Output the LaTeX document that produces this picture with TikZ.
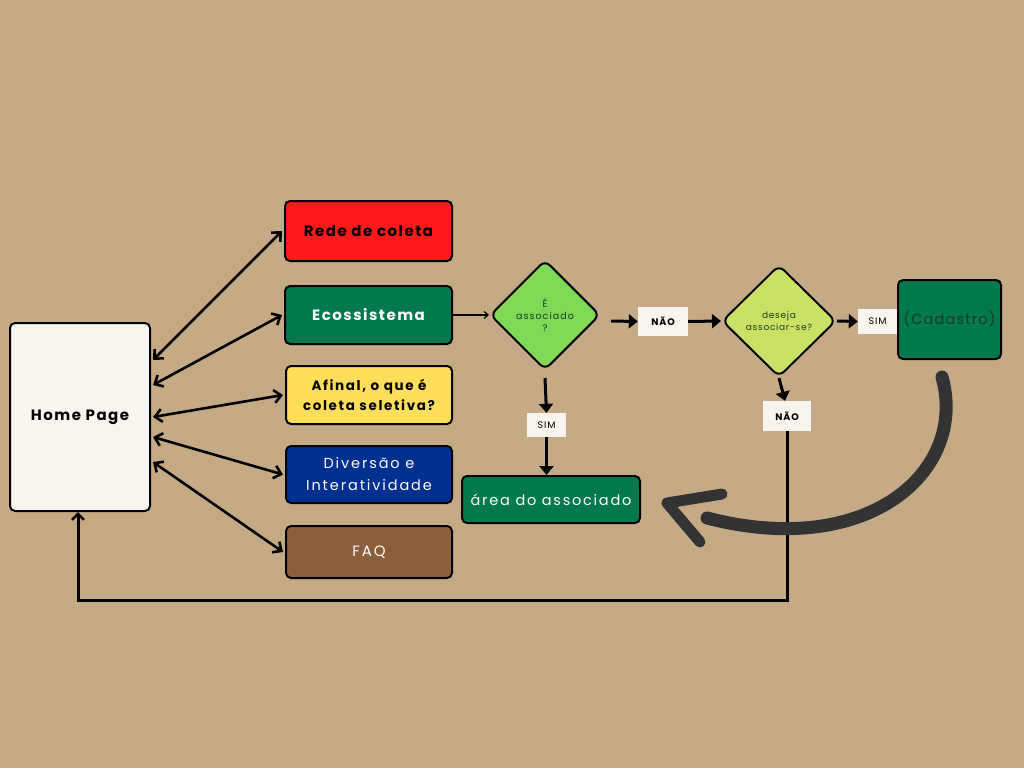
\documentclass[tikz,border=0pt]{standalone}
\usepackage{fontspec}
\setmainfont{Poppins}
\usetikzlibrary{arrows.meta,shapes.geometric,calc}
\definecolor{kraft}{HTML}{C6AA86}
\definecolor{cream}{HTML}{F8F4EE}
\definecolor{redbox}{HTML}{FF1A1A}
\definecolor{ecogreen}{HTML}{007A4D}
\definecolor{yellowbox}{HTML}{FFDE59}
\definecolor{bluebox}{HTML}{00308F}
\definecolor{brownbox}{HTML}{8B5E3C}
\definecolor{lightgreen}{HTML}{7ED957}
\definecolor{limegreen}{HTML}{C9E265}
\definecolor{darkgray}{HTML}{333333}
\definecolor{darktext}{HTML}{1E3A1E}
\newcommand{\ls}[1]{\addfontfeatures{LetterSpace=#1}}
\tikzset{
  box/.style={draw=black, line width=2pt, rounded corners=5pt, align=center, inner sep=0pt},
  dia/.style={diamond, aspect=1, draw=black, line width=2pt, rounded corners=7pt, align=center, inner sep=0pt},
  tag/.style={fill=cream, inner sep=0pt, font=\fontsize{9.5}{10}\selectfont\ls{10}},
  btag/.style={tag, font=\bfseries\fontsize{9.5}{10}\selectfont\ls{10}},
  dbl/.style={line width=2.6pt, {Straight Barb[length=7pt,width=13pt,line width=2.6pt]}-{Straight Barb[length=7pt,width=13pt,line width=2.6pt]}},
  flow/.style={line width=3pt, -{Triangle[length=9pt,width=14pt]}},
  loop/.style={line width=3pt, -{Straight Barb[length=6pt,width=12pt,line width=2.5pt]}},
}
\begin{document}
\begin{tikzpicture}[x=1pt,y=-1pt]
\fill[kraft] (0,0) rectangle (1024,768);
\useasboundingbox (0,0) rectangle (1024,768);

% main nodes
\node[box, fill=cream, minimum width=140pt, minimum height=188pt, font=\bfseries\fontsize{15}{17}\selectfont\ls{10}] (home) at (80,417) {Home Page};
\node[box, fill=redbox, minimum width=167pt, minimum height=60pt, font=\bfseries\fontsize{15}{17}\selectfont\ls{10}] (rede) at (368.5,231) {Rede de coleta};
\node[box, fill=ecogreen, text=white, minimum width=167pt, minimum height=58pt, font=\bfseries\fontsize{15}{17}\selectfont\ls{10}] (eco) at (368.5,315) {Ecossistema};
\node[box, fill=yellowbox, minimum width=166pt, minimum height=58pt, font=\bfseries\fontsize{13.5}{20}\selectfont\ls{12}] (afinal) at (369,395) {Afinal, o que é\\coleta seletiva?};
\node[box, fill=bluebox, text=white, minimum width=166pt, minimum height=57pt, font=\fontsize{14.5}{22}\selectfont\ls{13}] (div) at (369,474.5) {Divers\~ao e\\Interatividade};
\node[box, fill=brownbox, text=white, minimum width=166pt, minimum height=52pt, font=\fontsize{15}{17}\selectfont\ls{13}] (faq) at (369,552) {FAQ};

\node[dia, fill=lightgreen, text=darktext, minimum width=110pt, minimum height=110pt, font=\fontsize{9.5}{12}\selectfont\ls{11}] (d1) at (545,315) {É\\associado\\?};
\node[dia, fill=limegreen, text=darktext, minimum width=114pt, minimum height=112pt, font=\fontsize{9}{12}\selectfont\ls{8}] (d2) at (779,321) {deseja\\associar-se?};

\node[btag, minimum width=50pt, minimum height=29pt] (nao1) at (663,321.5) {NÃO};
\node[tag, minimum width=39pt, minimum height=25pt] (sim1) at (877.5,321.5) {SIM};
\node[box, fill=ecogreen, text=darktext, minimum width=103pt, minimum height=79pt, font=\fontsize{14.5}{17}\selectfont\ls{8}] (cad) at (949.5,319.5) {(Cadastro)};
\node[btag, minimum width=48pt, minimum height=30pt] (nao2) at (787,416) {NÃO};
\node[tag, minimum width=39pt, minimum height=24pt] (sim2) at (546.5,425) {SIM};
\node[box, fill=ecogreen, text=white, minimum width=178pt, minimum height=47pt, font=\fontsize{14.5}{17}\selectfont\ls{12}] (area) at (551,499.5) {área do associado};

% home double arrows
\draw[dbl] ([yshift=57pt,xshift=2pt]home.east) -- ([xshift=-2pt]rede.west);
\draw[dbl] ([yshift=32pt,xshift=2pt]home.east) -- ([xshift=-2pt]eco.west);
\draw[dbl] ([xshift=2pt]home.east) -- ([xshift=-2pt]afinal.west);
\draw[dbl] ([yshift=-20pt,xshift=2pt]home.east) -- ([xshift=-2pt]div.west);
\draw[dbl] ([yshift=-45pt,xshift=2pt]home.east) -- ([xshift=-2pt]faq.west);

% flow
\draw[line width=1.2pt, -{Straight Barb[length=4pt,width=7pt,line width=1.2pt]}] (eco.east) -- (d1.west);
\draw[flow] ([xshift=10pt,yshift=-6pt]d1.east) -- (nao1.west);
\draw[flow] (nao1.east) -- (d2.west);
\draw[flow] (d2.east) -- (sim1.west);
\draw[flow] ([yshift=-7pt]d1.south) -- (sim2.north);
\draw[flow] (sim2.south) -- (area.north -| sim2.south);
\draw[flow] (d2.south) -- ([xshift=-2pt]nao2.north);

% loop back to home
\coordinate (c1) at (787,600);
\coordinate (c2) at (78,600);
\draw[loop] (nao2.south) -- (c1) -- (c2) -- (home.south -| c2);

% big curved arrow
\coordinate (s) at (942,377);
\coordinate (e) at (707,518);
\coordinate (tip) at (667,503);
\coordinate (h1) at (722,494);
\coordinate (h2) at (700,542);
\draw[darkgray, line width=13pt, line cap=round] (s) .. controls (968,470) and (870,560) .. (e);
\draw[darkgray, line width=11pt, line cap=round, line join=round] (h1) -- (tip) -- (h2);
\end{tikzpicture}
\end{document}
